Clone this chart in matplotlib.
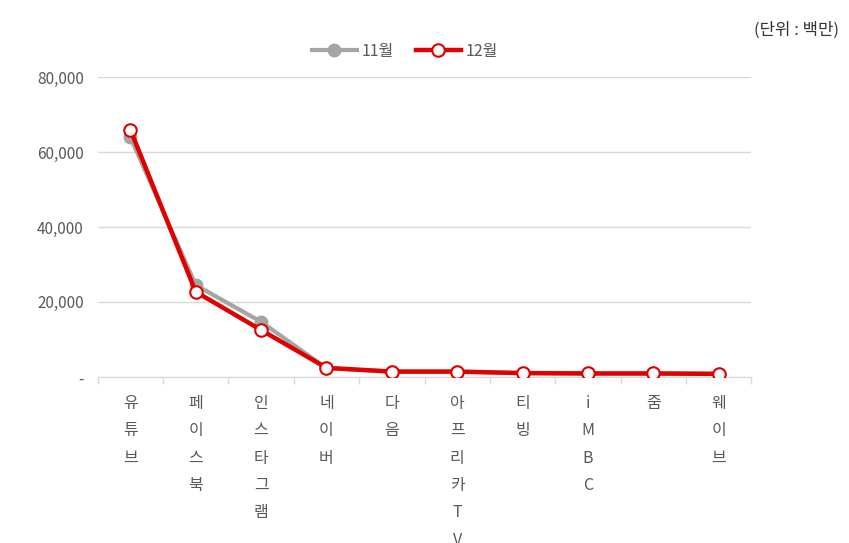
import matplotlib
matplotlib.use("Agg")
import matplotlib.pyplot as plt
from matplotlib.ticker import FuncFormatter, MultipleLocator

plt.rcParams["font.family"] = ["Noto Sans CJK KR", "DejaVu Sans"]

# data
categories = ["유튜브", "페이스북", "인스타그램", "네이버", "다음",
              "아프리카TV", "티빙", "iMBC", "줌", "웨이브"]
nov = [64000, 24500, 14700, 2300, 1400, 1400, 1000, 900, 900, 800]
dec = [66000, 22700, 12500, 2400, 1400, 1400, 1000, 900, 900, 800]
y_ticks = [0, 20000, 40000, 60000, 80000]

GRAY = "#A5A5A5"
RED = "#E00000"
GRID = "#D9D9D9"
TEXT = "#595959"

fig = plt.figure(figsize=(8.49, 5.43), dpi=100)
ax = fig.add_axes([0.115, 0.306, 0.770, 0.552])

x = list(range(len(categories)))
ax.plot(x, nov, color=GRAY, linewidth=3, marker="o", markersize=9,
        markerfacecolor=GRAY, markeredgecolor=GRAY, label="11월", zorder=3)
ax.plot(x, dec, color=RED, linewidth=3.2, marker="o", markersize=9,
        markerfacecolor="white", markeredgecolor=RED, markeredgewidth=1.5,
        label="12월", zorder=4)

ax.set_xlim(-0.5, len(categories) - 0.5)
ax.set_ylim(0, 80000)
ax.set_yticks(y_ticks)
ax.yaxis.set_major_formatter(FuncFormatter(lambda v, p: "-" if v == 0 else f"{int(v):,}"))
ax.grid(axis="y", color=GRID, linewidth=1)
ax.set_axisbelow(True)

for s in ["top", "right", "left"]:
    ax.spines[s].set_visible(False)
ax.spines["bottom"].set_color(GRID)
ax.tick_params(axis="y", length=0, colors=TEXT, labelsize=11, pad=10)

# category labels stacked vertically, ticks at category boundaries
ax.set_xticks(x)
ax.set_xticklabels(["\n".join(c) for c in categories], fontsize=11.5,
                   color=TEXT, va="top", linespacing=1.8)
ax.tick_params(axis="x", which="major", length=0, pad=13)
ax.xaxis.set_minor_locator(MultipleLocator(1, offset=0.5))
ax.tick_params(axis="x", which="minor", length=5, color=GRID, width=1)

ax.legend(loc="lower center", bbox_to_anchor=(0.47, 1.01), ncol=2, frameon=False,
          fontsize=11.5, labelcolor=TEXT, handlelength=2.8, columnspacing=1.4,
          handletextpad=0.3)

fig.text(0.988, 0.945, "(단위 : 백만)", ha="right", va="center", fontsize=12, color="#333333")

fig.savefig("out.png", dpi=100)
